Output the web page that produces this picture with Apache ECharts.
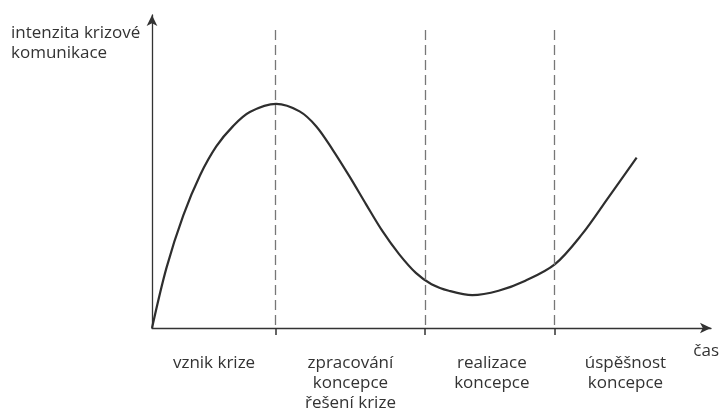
<!DOCTYPE html>
<html>
<head>
<meta charset="utf-8">
<script src="https://cdn.jsdelivr.net/npm/echarts@6/dist/echarts.min.js"></script>
<style>
html,body{margin:0;padding:0;background:#fff;}
#chart{width:722px;height:413px;}
</style>
</head>
<body>
<div id="chart"></div>
<script>
// Curve points (time 0..100, intensity 0..100)
const curveX = [0, 2.6, 5.6, 8.6, 11.5, 14.5, 17.5, 22.2, 26.4, 29.4, 32.3, 35.3, 38.3, 41.2, 44.2, 47.2, 50.0, 53.1, 57.3, 62.0, 66.8, 72.1, 76.9, 81.6, 86.7];
const curveY = [0, 19.3, 36.0, 48.8, 58.0, 64.5, 69.0, 71.6, 69.2, 64.4, 57.0, 48.5, 39.5, 31.0, 23.6, 17.6, 14.0, 11.9, 10.5, 11.9, 15.1, 20.4, 29.9, 41.6, 54.4];
// Phase boundaries (dashed lines) and phase label positions
const phaseBounds = [22.1, 48.8, 72.0];
const dashTop = 95.2;
const phaseMids = [11.1, 35.5, 60.8, 84.7];
const phaseLabels = ['vznik krize', 'zpracování\nkoncepce\nřešení krize', 'realizace\nkoncepce', 'úspěšnost\nkoncepce'];
const yTitle = 'intenzita krizové\nkomunikace';
const xTitle = 'čas';

const FONT = '"Open Sans", sans-serif';
const TXT = '#333';
const AX = '#333';

const chart = echarts.init(document.getElementById('chart'), null, {renderer: 'canvas'});
const option = {
  animation: false,
  backgroundColor: '#fff',
  title: {
    text: yTitle,
    left: 6, top: 18,
    textStyle: {fontFamily: FONT, fontSize: 17, fontWeight: 'normal', color: TXT, lineHeight: 20}
  },
  grid: {left: 152, right: 9, top: 15, bottom: 84},
  xAxis: {
    type: 'value', min: 0, max: 100,
    name: xTitle, nameLocation: 'end', nameGap: 8,
    nameTextStyle: {fontFamily: FONT, fontSize: 17, color: TXT, align: 'right', verticalAlign: 'top', padding: [15, 0, 0, 0]},
    axisLine: {show: true, lineStyle: {color: AX, width: 1.3}, symbol: ['none', 'arrow'], symbolSize: [8, 11]},
    axisTick: {show: true, customValues: phaseBounds, length: 7, lineStyle: {color: AX, width: 1.5}},
    axisLabel: {
      show: true, customValues: phaseMids, margin: 25,
      fontFamily: FONT, fontSize: 17, color: TXT, lineHeight: 20, align: 'center',
      formatter: function (v) { const i = phaseMids.indexOf(v); return i >= 0 ? phaseLabels[i] : ''; }
    },
    splitLine: {show: false}
  },
  yAxis: {
    type: 'value', min: 0, max: 100,
    axisLine: {show: true, lineStyle: {color: AX, width: 1.3}, symbol: ['none', 'arrow'], symbolSize: [8, 11]},
    axisTick: {show: false},
    axisLabel: {show: false},
    splitLine: {show: false}
  },
  series: [{
    type: 'line',
    data: curveX.map((x, i) => [x, curveY[i]]),
    smooth: 0.33,
    showSymbol: false,
    lineStyle: {color: '#2e2e2e', width: 2.2},
    markLine: {
      silent: true,
      symbol: ['none', 'none'],
      label: {show: false},
      lineStyle: {color: '#777', width: 1.3, type: [10, 5]},
      data: phaseBounds.map(b => [{coord: [b, dashTop]}, {coord: [b, 0]}])
    }
  }]
};
chart.setOption(option);
</script>
</body>
</html>
